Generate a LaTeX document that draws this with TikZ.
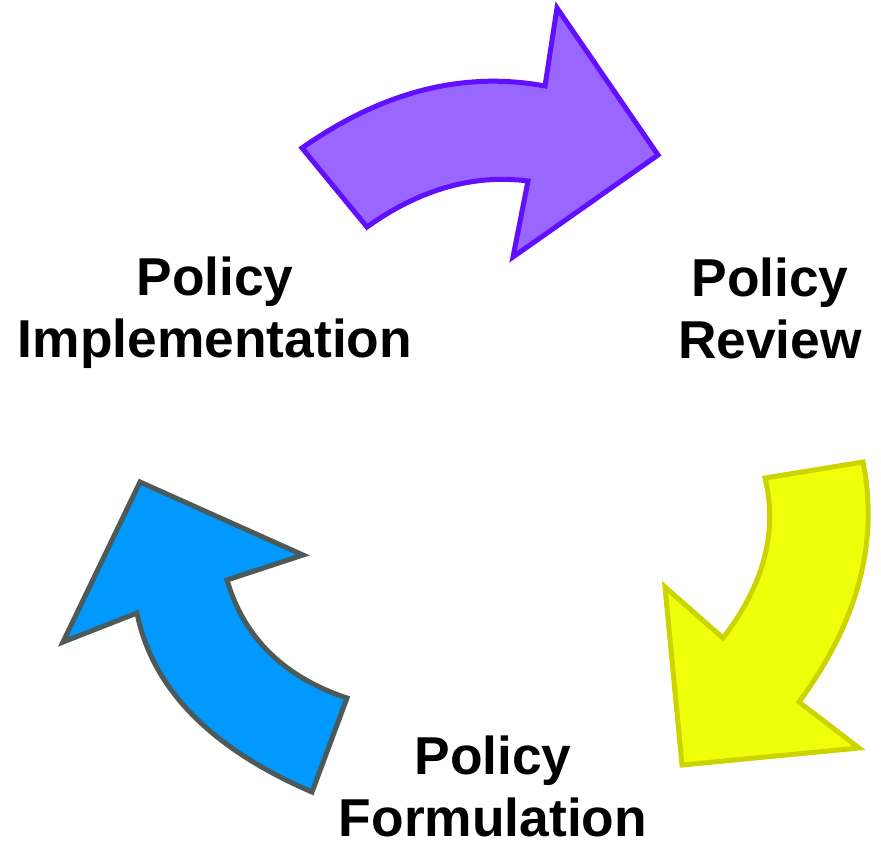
\documentclass[tikz,border=0pt]{standalone}
\usepackage{fontspec}
\setmainfont{Liberation Sans}
\usepackage{tikz}
\usetikzlibrary{positioning}

\definecolor{purplefill}{HTML}{9966FF}
\definecolor{purpledraw}{HTML}{6010FF}
\definecolor{yellowfill}{HTML}{EFFF0A}
\definecolor{yellowdraw}{HTML}{CCD400}
\definecolor{bluefill}{HTML}{0099FF}
\definecolor{bluedraw}{HTML}{4D5A5A}

\begin{document}
\begin{tikzpicture}[
    x=0.75pt, y=-0.75pt,
    stage/.style={align=center, inner sep=0pt, font=\bfseries\fontsize{40}{46.5}\selectfont},
    cyclearrow/.style={line width=3.75pt, line join=miter}
]
\useasboundingbox (0,0) rectangle (881,843);

% Stage labels
\node[stage] (impl) at (215,313) {Policy\\Implementation};
\node[stage] (review) at (770,308) {Policy\\Review};
\node[stage] (form) at (493,786) {Policy\\Formulation};

% Implementation to review
\filldraw[cyclearrow, fill=purplefill, draw=purpledraw]
    (302,148) -- (367,227) .. controls (420,189) and (474,174) .. (528,181)
    -- (513,257) -- (658,155) -- (557,8) -- (545,86)
    .. controls (464,71) and (383,91) .. (302,148) -- cycle;

% Review to formulation
\filldraw[cyclearrow, fill=yellowfill, draw=yellowdraw]
    (765,478) -- (863,462) .. controls (879,542) and (858,622) .. (799,702)
    -- (859,748) -- (682,765) -- (665,587) -- (723,638)
    .. controls (764,585) and (778,531) .. (765,478) -- cycle;

% Formulation to implementation
\filldraw[cyclearrow, fill=bluefill, draw=bluedraw]
    (140,482) -- (303,555) -- (227,580) .. controls (244,638) and (284,677) .. (347,698)
    -- (312,792) .. controls (210,748) and (152,688) .. (137,613)
    -- (63,642) -- cycle;

\end{tikzpicture}
\end{document}
